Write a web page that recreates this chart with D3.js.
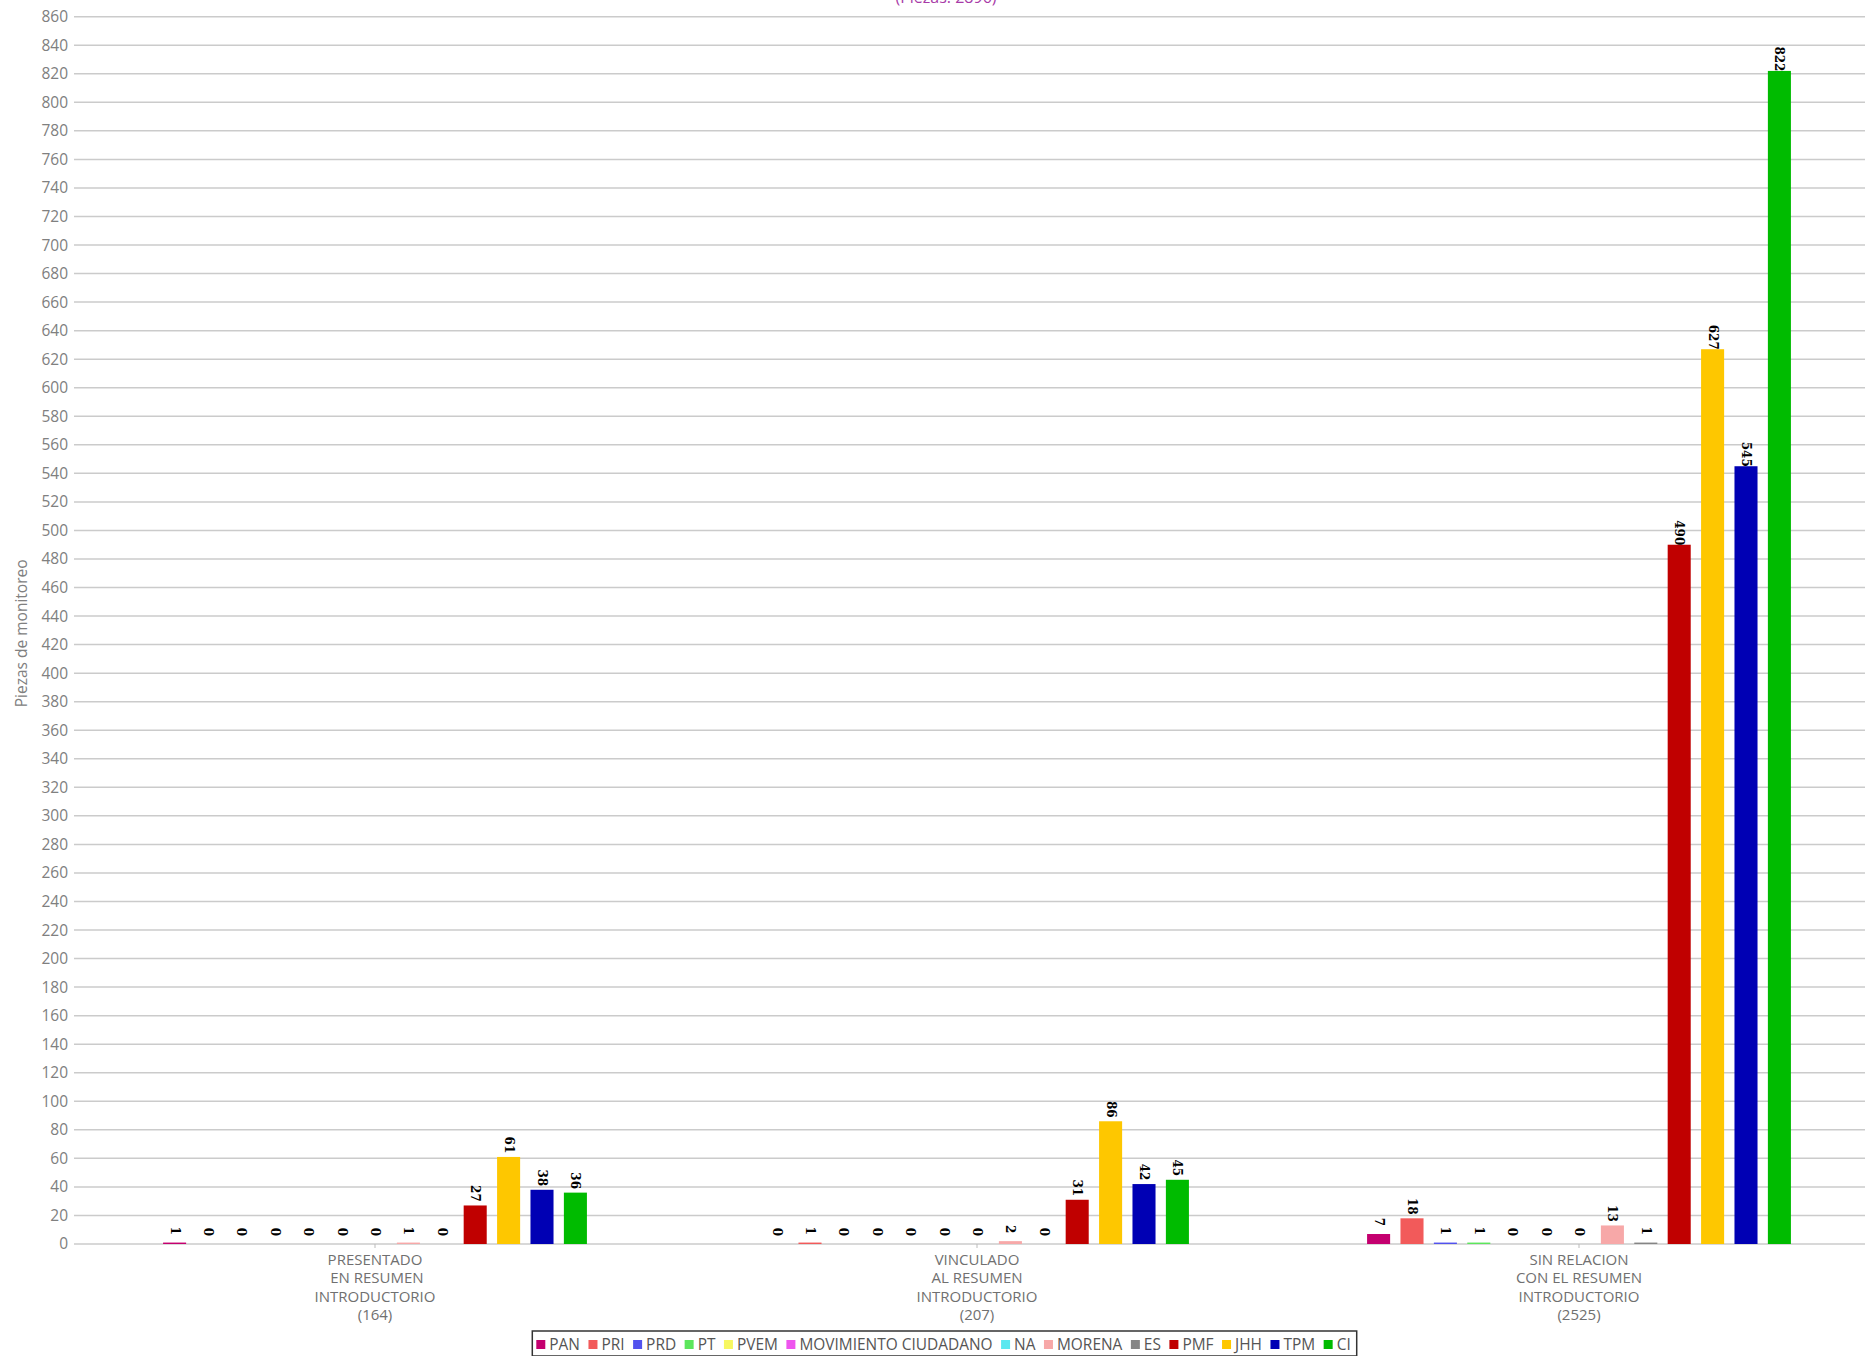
<!DOCTYPE html>
<html>
<head>
<meta charset="utf-8">
<script src="https://cdn.jsdelivr.net/npm/d3@7"></script>
<style>
  html, body { margin: 0; padding: 0; background: #ffffff; overflow: hidden; }
  svg { display: block; }
</style>
</head>
<body>
<script>
// ---- DATA ----
const categories = [
  ["PRESENTADO", " EN RESUMEN", "INTRODUCTORIO", "(164)"],
  ["VINCULADO", "AL RESUMEN", "INTRODUCTORIO", "(207)"],
  ["SIN RELACION", "CON EL RESUMEN", "INTRODUCTORIO", "(2525)"]
];
const seriesNames = ["PAN", "PRI", "PRD", "PT", "PVEM", "MOVIMIENTO CIUDADANO", "NA", "MORENA", "ES", "PMF", "JHH", "TPM", "CI"];
const seriesColors = ["#c4006f", "#f25a5a", "#5252ee", "#5ce65c", "#f7f760", "#ee55ee", "#5ce8f0", "#f7a8a8", "#858585", "#c00000", "#fec700", "#0000b4", "#00bb00"];
const valuesPresentado = [1, 0, 0, 0, 0, 0, 0, 1, 0, 27, 61, 38, 36];
const valuesVinculado  = [0, 1, 0, 0, 0, 0, 0, 2, 0, 31, 86, 42, 45];
const valuesSinRelacion = [7, 18, 1, 1, 0, 0, 0, 13, 1, 490, 627, 545, 822];
const groupValues = [valuesPresentado, valuesVinculado, valuesSinRelacion];
const yTicks = d3.range(0, 861, 20);
const yTitle = "Piezas de monitoreo";
const chartTitle = "(Piezas: 2896)";

// ---- LAYOUT ----
const W = 1865, H = 1356;
const plotLeft = 74, plotRight = 1880, plotTop = 16.7, plotBottom = 1244;

const svg = d3.select("body").append("svg").attr("width", W).attr("height", H);

const x0 = d3.scaleBand().domain(d3.range(categories.length)).range([plotLeft, plotRight]).padding(0);
const step = 33.4;
const innerW = step * seriesNames.length;
const x1 = d3.scaleBand().domain(d3.range(seriesNames.length))
  .range([(x0.bandwidth() - innerW) / 2, (x0.bandwidth() + innerW) / 2])
  .paddingInner(0.31).paddingOuter(0.155);
const y = d3.scaleLinear().domain([0, 860]).range([plotBottom, plotTop]);

const font = "'Open Sans', 'DejaVu Sans', sans-serif";

// title (cut at the top edge, as in the reference)
svg.append("text").attr("x", 946).attr("y", 3)
  .attr("text-anchor", "middle").attr("font-family", font).attr("font-size", 16)
  .attr("fill", "#a83ba8").text(chartTitle);

// gridlines
svg.append("g").selectAll("line").data(yTicks).join("line")
  .attr("x1", plotLeft).attr("x2", W)
  .attr("y1", d => y(d)).attr("y2", d => y(d))
  .attr("stroke", "#cbcbcb").attr("stroke-width", 1.5);

// y axis labels
const yAxis = d3.axisLeft(y).tickValues(yTicks).tickSize(0).tickPadding(6);
const yg = svg.append("g").attr("transform", `translate(${plotLeft},0)`).call(yAxis);
yg.select(".domain").remove();
yg.selectAll("text").attr("font-family", font).attr("font-size", 15.5).attr("fill", "#808080");

// y title
svg.append("text")
  .attr("transform", `translate(27,${(plotTop + plotBottom) / 2 + 3}) rotate(-90)`)
  .attr("text-anchor", "middle").attr("font-family", font).attr("font-size", 15.5)
  .attr("fill", "#808080").text(yTitle);

// bars
const groups = svg.append("g").selectAll("g").data(groupValues).join("g")
  .attr("transform", (d, i) => `translate(${x0(i)},0)`);

groups.selectAll("rect").data(d => d).join("rect")
  .attr("x", (d, i) => x1(i))
  .attr("width", x1.bandwidth())
  .attr("y", d => y(d))
  .attr("height", d => plotBottom - y(d))
  .attr("fill", (d, i) => seriesColors[i]);

// value labels, rotated
groups.selectAll("text.val").data(d => d).join("text")
  .attr("class", "val")
  .attr("transform", (d, i) => `translate(${x1(i) + x1.bandwidth() / 2},${y(d) - 12}) rotate(90)`)
  .attr("text-anchor", "middle").attr("dominant-baseline", "central")
  .attr("font-family", "'DejaVu Serif', serif").attr("font-weight", "bold").attr("font-size", 12)
  .attr("fill", "#000").text(d => d);

// x axis ticks at category centers
svg.append("g").selectAll("line").data(d3.range(categories.length)).join("line")
  .attr("x1", i => x0(i) + x0.bandwidth() / 2).attr("x2", i => x0(i) + x0.bandwidth() / 2)
  .attr("y1", plotBottom).attr("y2", plotBottom + 4)
  .attr("stroke", "#bbbbbb").attr("stroke-width", 1);

// category labels
const catG = svg.append("g").selectAll("text").data(categories).join("text")
  .attr("text-anchor", "middle").attr("font-family", font).attr("font-size", 15)
  .attr("fill", "#707070");
catG.each(function (lines, i) {
  const t = d3.select(this);
  lines.forEach((ln, k) => {
    t.append("tspan").attr("x", x0(i) + x0.bandwidth() / 2).attr("y", 1265 + k * 18.3)
      .attr("xml:space", "preserve").text(ln);
  });
});

// legend
const legendCenter = 944.5, legendTop = 1331, legendH = 25, targetW = 825;
const lg = svg.append("g");
let fs = 16;
const measure = () => {
  const tmp = lg.append("g");
  const ws = seriesNames.map(n => {
    const t = tmp.append("text").attr("font-family", font).attr("font-size", fs).text(n);
    return t.node().getComputedTextLength();
  });
  tmp.remove();
  return ws;
};
const sq = 9, gapSq = 4, gapItem = 8.5, padL = 4, padR = 6;
let widths = measure();
fs = fs * (targetW - padL - padR - seriesNames.length * (sq + gapSq) - (seriesNames.length - 1) * gapItem) / d3.sum(widths);
widths = measure();
const total = padL + padR + d3.sum(widths) + seriesNames.length * (sq + gapSq) + (seriesNames.length - 1) * gapItem;
const lx0 = legendCenter - total / 2;
lg.append("rect").attr("x", lx0).attr("y", legendTop).attr("width", total).attr("height", legendH)
  .attr("fill", "#ffffff").attr("stroke", "#333333").attr("stroke-width", 1.5);
let cx = lx0 + padL;
seriesNames.forEach((n, i) => {
  lg.append("rect").attr("x", cx).attr("y", legendTop + legendH / 2 - sq / 2 + 1).attr("width", sq).attr("height", sq)
    .attr("fill", seriesColors[i]);
  cx += sq + gapSq;
  lg.append("text").attr("x", cx).attr("y", legendTop + legendH / 2 + fs * 0.36 + 1)
    .attr("font-family", font).attr("font-size", fs).attr("fill", "#555555").text(n);
  cx += widths[i] + gapItem;
});
</script>
</body>
</html>
